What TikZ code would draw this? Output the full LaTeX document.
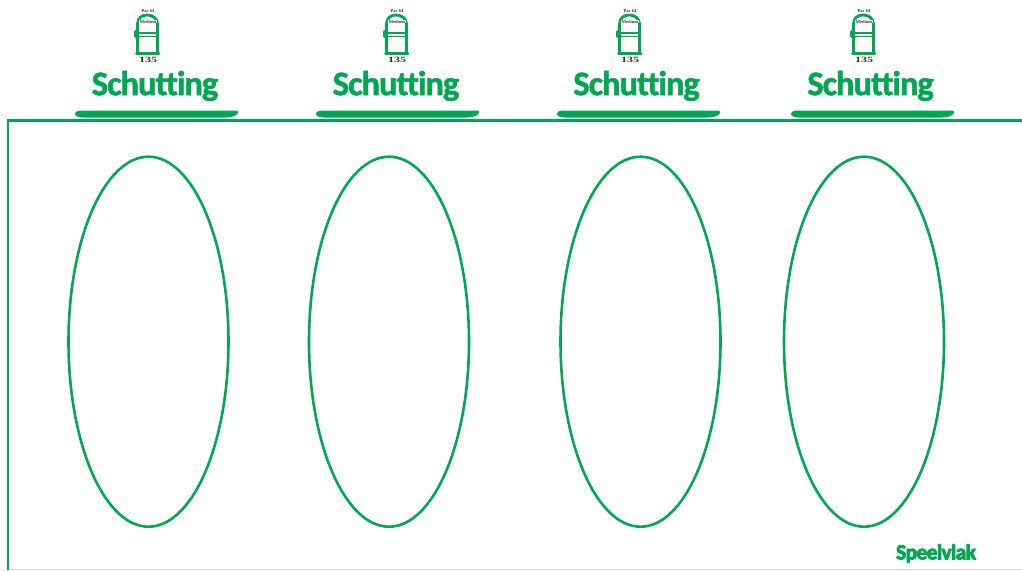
\documentclass[tikz,border=0pt]{standalone}
\usepackage{fontspec}
\setmainfont{Carlito}[Ligatures=NoCommon]
\newfontfamily\iconfont{Liberation Serif}
\newfontfamily\titlefont{Carlito}[Ligatures=NoCommon,LetterSpace=-3]
\usetikzlibrary{shapes.geometric}
\definecolor{fieldgreen}{HTML}{00A651}
\newcommand{\heavytext}[2]{\special{pdf:literal 2 Tr #1 w}#2\special{pdf:literal 0 Tr}}
\tikzstyle{pitch} = [draw=fieldgreen, line width=2.6pt, ellipse, minimum width=160pt, minimum height=370pt, inner sep=0pt]
\tikzstyle{fence} = [text=fieldgreen, font=\titlefont\fontsize{34.5}{34.5}\selectfont\bfseries, inner sep=0pt]
\tikzstyle{icontext} = [text=black!80, inner sep=0pt]
\tikzstyle{hole} = [draw=fieldgreen, line width=2.8pt]
\begin{document}
\begin{tikzpicture}[x=1pt, y=-1pt]
        \useasboundingbox (0,0) rectangle (1022,570);
        % Outer frame
        \draw[black!15, line width=0.8pt] (8,569.6) -- (1022,569.6);
        \draw[fieldgreen, line width=2.2pt] (1022,120.5) -- (8,120.5) -- (8,570);

        % Fences and pitches
        \foreach \name/\px/\tx/\bx/\ex in {a/147/155/75/148.5, b/396/396/316/389, c/629/636.5/557/640.5, d/863/870.5/791/864} {
          \node[fence] (title\name) at (\tx,86) {\pgfsetfillcolor{fieldgreen}\heavytext{0.5}{Schutting}};
          \fill[fieldgreen] (\bx,114) .. controls (\bx,111.5) and (\bx+3,110.5) .. (\bx+8,110.5) -- (\bx+161,110.5)
            .. controls (\bx+166,110.5) and (\bx+163,117.5) .. (\bx+151,117.5) -- (\bx+8,117.5) .. controls (\bx+3,117.5) and (\bx,116) .. (\bx,114) -- cycle;
          \node[pitch] (pitch\name) at (\ex,341.7) {};

          % Hole icon
          \draw[hole] (\px-9.5,53) -- (\px-9.5,24) .. controls (\px-9.5,18) and (\px-5,15) .. (\px,15)
            .. controls (\px+5,15) and (\px+10.5,18) .. (\px+10.5,24) -- (\px+10.5,53);
          \draw[hole] (\px-10,33) -- (\px+10,33);
          \draw[hole, line width=1.4pt] (\px-10,36.5) -- (\px+10,36.5);
          \draw[hole, line cap=round] (\px-10.5,53.5) -- (\px+12,53.5);
          \fill[fieldgreen, rounded corners=1.5pt] (\px-13,30) rectangle (\px-9,38);
          \node[icontext, font=\iconfont\bfseries\fontsize{4.5}{5}\selectfont] (par\name) at (\px+1,11) {Par 64};
          \node[icontext, fill=white, inner xsep=0.5pt, font=\iconfont\bfseries\fontsize{4.5}{5}\selectfont] (level\name) at (\px+1,21.5) {Medium};
          \node[icontext, xscale=1.5, font=\iconfont\bfseries\fontsize{8}{8}\selectfont] (length\name) at (\px+1,59.5) {135};
        }

        \node[fence, font=\titlefont\fontsize{21.5}{21.5}\selectfont\bfseries] (speelvlak) at (936,553.5) {\heavytext{0.8}{Speelvlak}};
      \end{tikzpicture}
\end{document}
